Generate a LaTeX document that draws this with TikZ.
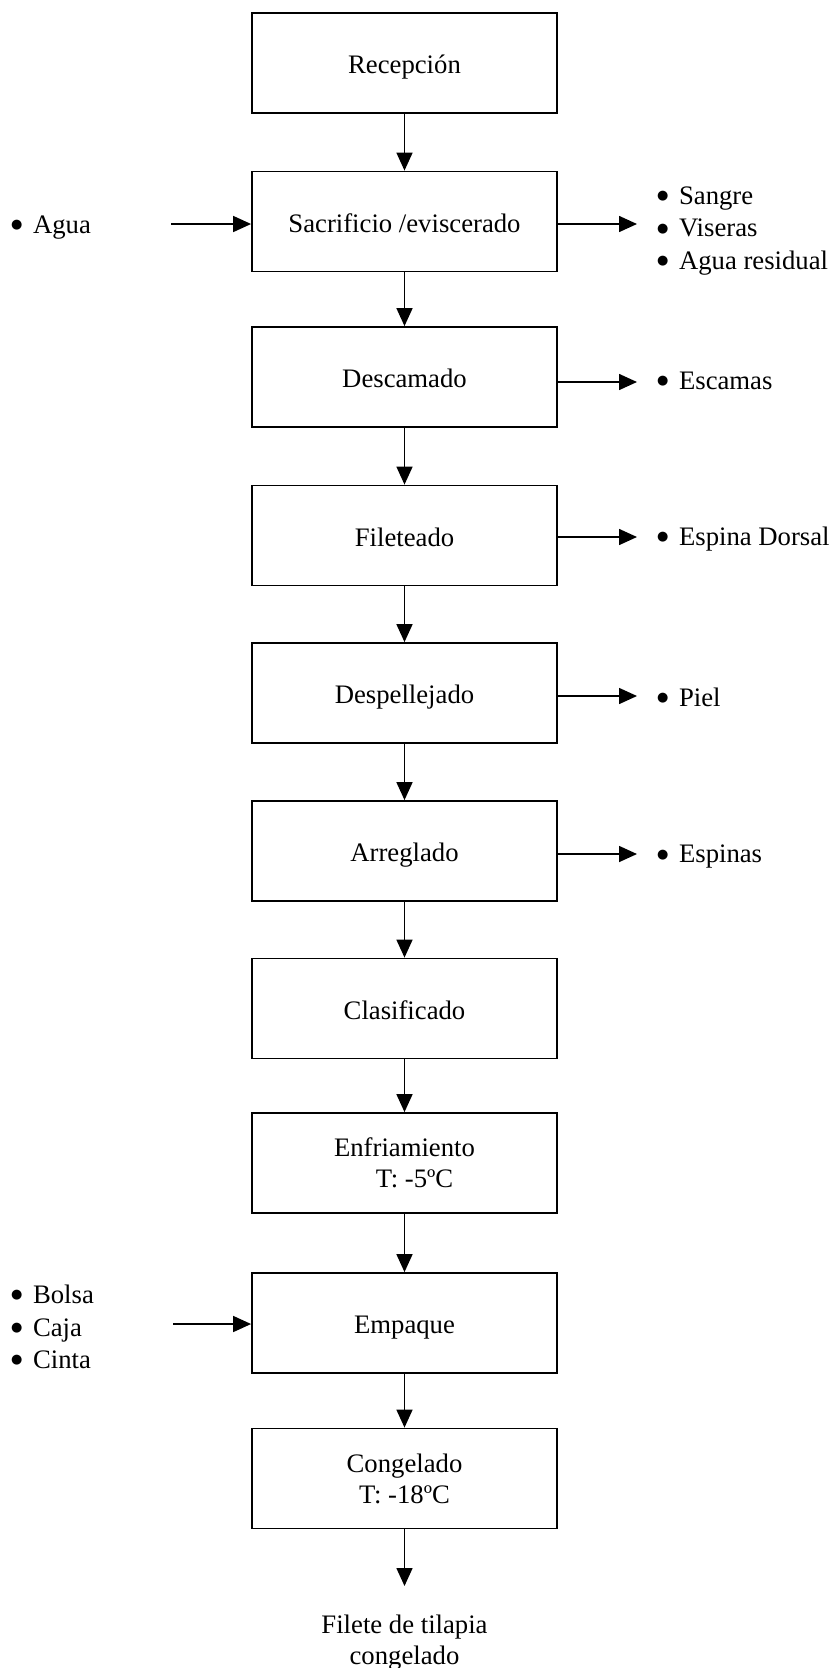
\documentclass[tikz,border=0pt]{standalone}
\usepackage{fontspec}
\setmainfont{Liberation Serif}
\newfontfamily\bulletfont{DejaVu Sans}
\usetikzlibrary{arrows.meta}
\newcommand\flowitem[1]{\raisebox{4.5pt}{\bulletfont\fontsize{13}{13}\selectfont ●}\hspace{10.5pt}#1}
\begin{document}
\begin{tikzpicture}[x=1pt,y=-1pt,
  every node/.style={font=\fontsize{26.7}{31}\selectfont},
  stepbox/.style={draw, line width=1.8pt, minimum width=305pt, minimum height=100pt,
    align=center, inner sep=0pt},
  oneline/.style={text height=27.9pt, text depth=6.7pt},
  flow/.style={line width=1.6pt, -{Triangle[length=18pt,width=16pt]}},
  item/.style={anchor=base west, inner sep=0pt},
  product/.style={align=center, inner sep=0pt}]
\useasboundingbox (0,0) rectangle (828,1668);

% process steps
\node[stepbox,oneline] (b1)  at (404.5,63)     {Recepción};
\node[stepbox,oneline] (b2)  at (404.5,221.5)  {Sacrificio /eviscerado};
\node[stepbox,oneline] (b3)  at (404.5,377)    {Descamado};
\node[stepbox,oneline] (b4)  at (404.5,535.5)  {Fileteado};
\node[stepbox,oneline] (b5)  at (404.5,693)    {Despellejado};
\node[stepbox,oneline] (b6)  at (404.5,851)    {Arreglado};
\node[stepbox,oneline] (b7)  at (404.5,1008.5) {Clasificado};
\node[stepbox] (b8)  at (404.5,1163)   {Enfriamiento\\\hspace*{20pt}T: -5ºC};
\node[stepbox,oneline] (b9)  at (404.5,1323)   {Empaque};
\node[stepbox] (b10) at (404.5,1478.5) {Congelado\\T: -18ºC};

% main flow
\foreach \a/\b in {b1/b2,b2/b3,b3/b4,b4/b5,b5/b6,b6/b7,b7/b8,b8/b9,b9/b10}
  \draw[flow] (\a.south) -- (\b.north);

% final product
\coordinate (fin) at (404.5,1586);
\draw[flow] (b10.south) -- (fin);
\node[product] (prod) at (404.5,1643) {Filete de tilapia\\congelado};

% inputs
\node[item] (inA)  at (11,233)  {\flowitem{Agua}};
\coordinate (inA1) at (171,224);
\draw[flow] (inA1) -- (inA1 -| b2.west);

\node[item] (inB1) at (11,1303) {\flowitem{Bolsa}};
\node[item] (inB2) at (11,1336) {\flowitem{Caja}};
\node[item] (inB3) at (11,1368) {\flowitem{Cinta}};
\coordinate (inB) at (173,1324);
\draw[flow] (inB) -- (inB -| b9.west);

% outputs
\node[item] (o2a) at (657,204)   {\flowitem{Sangre}};
\node[item] (o2b) at (657,236.7) {\flowitem{Viseras}};
\node[item] (o2c) at (657,269.3) {\flowitem{Agua residual}};
\node[item] (o3)  at (657,389)   {\flowitem{Escamas}};
\node[item] (o4)  at (657,545)   {\flowitem{Espina Dorsal}};
\node[item] (o5)  at (657,706)   {\flowitem{Piel}};
\node[item] (o6)  at (657,862.5) {\flowitem{Espinas}};

\coordinate (e2) at (637,224);
\coordinate (e3) at (637,382);
\coordinate (e4) at (637,537);
\coordinate (e5) at (637,696);
\coordinate (e6) at (637,854);
\draw[flow] (e2 -| b2.east) -- (e2);
\draw[flow] (e3 -| b3.east) -- (e3);
\draw[flow] (e4 -| b4.east) -- (e4);
\draw[flow] (e5 -| b5.east) -- (e5);
\draw[flow] (e6 -| b6.east) -- (e6);
\end{tikzpicture}
\end{document}
